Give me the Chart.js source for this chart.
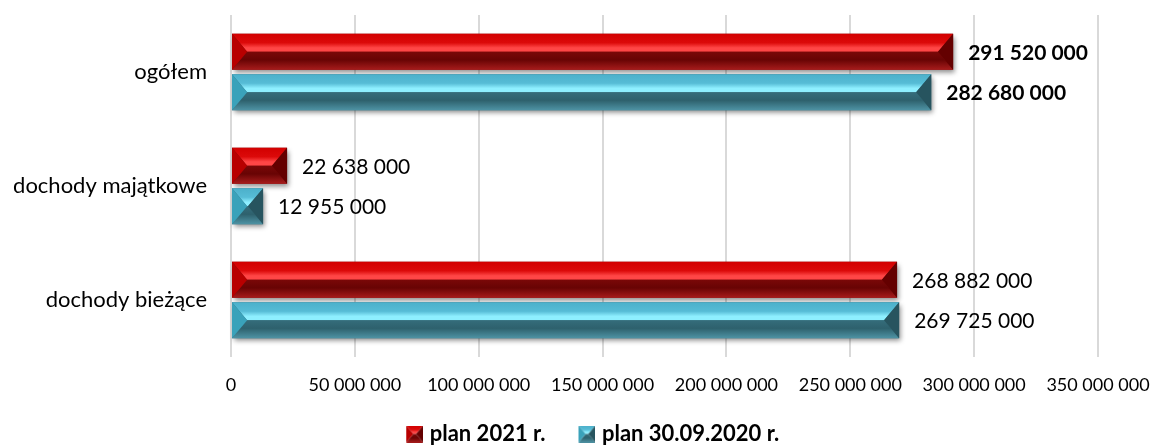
<!DOCTYPE html>
<html><head><meta charset="utf-8">
<script src="https://cdn.jsdelivr.net/npm/chart.js@4/dist/chart.umd.min.js"></script>
<style>html,body{margin:0;padding:0;background:#fff}#wrap{width:1152px;height:445px}</style>
</head><body><div id="wrap"><canvas id="c" width="1152" height="445"></canvas></div>
<script>
const categories = ['ogółem', 'dochody majątkowe', 'dochody bieżące'];
const seriesNames = ['plan 2021 r.', 'plan 30.09.2020 r.'];
const plan2021 = [291520000, 22638000, 268882000];
const plan2020 = [282680000, 12955000, 269725000];
const boldCategory = [true, false, false];

const palettes = [
  {top:'#d20000', top2:'#dc0a0a', ridge:'#ff4646', lowTop:'#7a0808', lowMid:'#680404', lowBot:'#a81c1c', left:'#b80000', right:'#640000'},
  {top:'#4cb0ca', top2:'#56bcd6', ridge:'#8eefff', lowTop:'#356d7b', lowMid:'#2e616d', lowBot:'#4e93a4', left:'#3aa2ba', right:'#27545f'}
];
const FONT = 'Lato, "Open Sans", sans-serif';

function bevel(ctx, x0, y0, x1, y1, p, shadow){
  const w = x1 - x0, h = y1 - y0; if (w <= 0) return;
  const my = y0 + h/2, b = Math.min(h*0.42, w/2);
  ctx.save();
  if (shadow){
    ctx.save();
    ctx.shadowColor = 'rgba(0,0,0,0.45)'; ctx.shadowBlur = 5; ctx.shadowOffsetX = 2; ctx.shadowOffsetY = 3;
    ctx.fillStyle = p.lowTop; ctx.fillRect(x0, y0, w, h);
    ctx.restore();
  }
  let g = ctx.createLinearGradient(0, y0, 0, my);
  g.addColorStop(0, p.top); g.addColorStop(0.5, p.top2); g.addColorStop(0.78, p.ridge); g.addColorStop(1, p.ridge);
  ctx.fillStyle = g; ctx.beginPath(); ctx.moveTo(x0,y0); ctx.lineTo(x1,y0); ctx.lineTo(x1-b,my); ctx.lineTo(x0+b,my); ctx.closePath(); ctx.fill();
  g = ctx.createLinearGradient(0, my, 0, y1);
  g.addColorStop(0, p.lowTop); g.addColorStop(0.45, p.lowMid); g.addColorStop(1, p.lowBot);
  ctx.fillStyle = g; ctx.beginPath(); ctx.moveTo(x0+b,my); ctx.lineTo(x1-b,my); ctx.lineTo(x1,y1); ctx.lineTo(x0,y1); ctx.closePath(); ctx.fill();
  ctx.fillStyle = p.left; ctx.beginPath(); ctx.moveTo(x0,y0); ctx.lineTo(x0+b,my); ctx.lineTo(x0,y1); ctx.closePath(); ctx.fill();
  ctx.fillStyle = p.right; ctx.beginPath(); ctx.moveTo(x1,y0); ctx.lineTo(x1,y1); ctx.lineTo(x1-b,my); ctx.closePath(); ctx.fill();
  ctx.restore();
}

function icon(p){
  const cv = document.createElement('canvas'); cv.width = 31; cv.height = 17;
  bevel(cv.getContext('2d'), 14, 0, 31, 17, p, false);
  return cv;
}

function fmt(v){ return String(v).replace(/\B(?=(\d{3})+(?!\d))/g, ' '); }

const bevelPlugin = {
  id: 'bevelBars',
  afterLayout(chart){
    if (chart.legend) { chart.legend.left += 78; }
  },
  afterDatasetsDraw(chart){
    const ctx = chart.ctx;
    chart.data.datasets.forEach((ds, di) => {
      const meta = chart.getDatasetMeta(di);
      meta.data.forEach((bar, i) => {
        const h = bar.height;
        const x0 = Math.min(bar.base, bar.x), x1 = Math.max(bar.base, bar.x);
        bevel(ctx, x0, bar.y - h/2, x1, bar.y + h/2, palettes[di], true);
        ctx.save();
        ctx.fillStyle = '#000';
        ctx.font = (boldCategory[i] ? 'bold ' : '') + '21px ' + FONT;
        ctx.textAlign = 'left'; ctx.textBaseline = 'middle';
        ctx.fillText(fmt(ds.data[i]), x1 + 15, bar.y + 1);
        ctx.restore();
      });
    });
  }
};

new Chart(document.getElementById('c'), {
  type: 'bar',
  data: {
    labels: categories,
    datasets: [
      {label: seriesNames[0], data: plan2021, backgroundColor: 'rgba(0,0,0,0)', borderWidth: 0, pointStyle: icon(palettes[0])},
      {label: seriesNames[1], data: plan2020, backgroundColor: 'rgba(0,0,0,0)', borderWidth: 0, pointStyle: icon(palettes[1])}
    ]
  },
  options: {
    indexAxis: 'y',
    responsive: false,
    animation: false,
    categoryPercentage: 0.71,
    barPercentage: 0.89,
    layout: {padding: {top: 15, right: 54, left: 0, bottom: -10}},
    scales: {
      x: {
        min: 0, max: 350000000,
        ticks: {stepSize: 50000000, color: '#000', font: {family: FONT, size: 18}, padding: 17, callback: v => fmt(v)},
        grid: {color: '#d9d9d9', lineWidth: 2, drawTicks: false},
        border: {display: false},
        afterFit(s){ s.height = 64; s.paddingLeft = 0; s.paddingRight = 0; s.paddingTop = 0; s.paddingBottom = 0; }
      },
      y: {
        ticks: {color: '#000', font: {family: FONT, size: 22}, padding: 24},
        grid: {display: false, drawTicks: false},
        border: {display: false},
        afterFit(s){ s.width = 231; s.paddingLeft = 0; s.paddingRight = 0; s.paddingTop = 0; s.paddingBottom = 0; }
      }
    },
    plugins: {
      legend: {
        position: 'bottom',
        labels: {
          usePointStyle: true, color: '#000', padding: 2,
          font: {family: FONT, size: 22, weight: 'bold', lineHeight: 1},
          generateLabels(chart){
            const items = Chart.defaults.plugins.legend.labels.generateLabels(chart);
            items.forEach((it, k) => { if (k < items.length - 1) it.text = it.text + '    '; });
            return items;
          }
        }
      },
      tooltip: {enabled: false}
    }
  },
  plugins: [bevelPlugin]
});
</script></body></html>
